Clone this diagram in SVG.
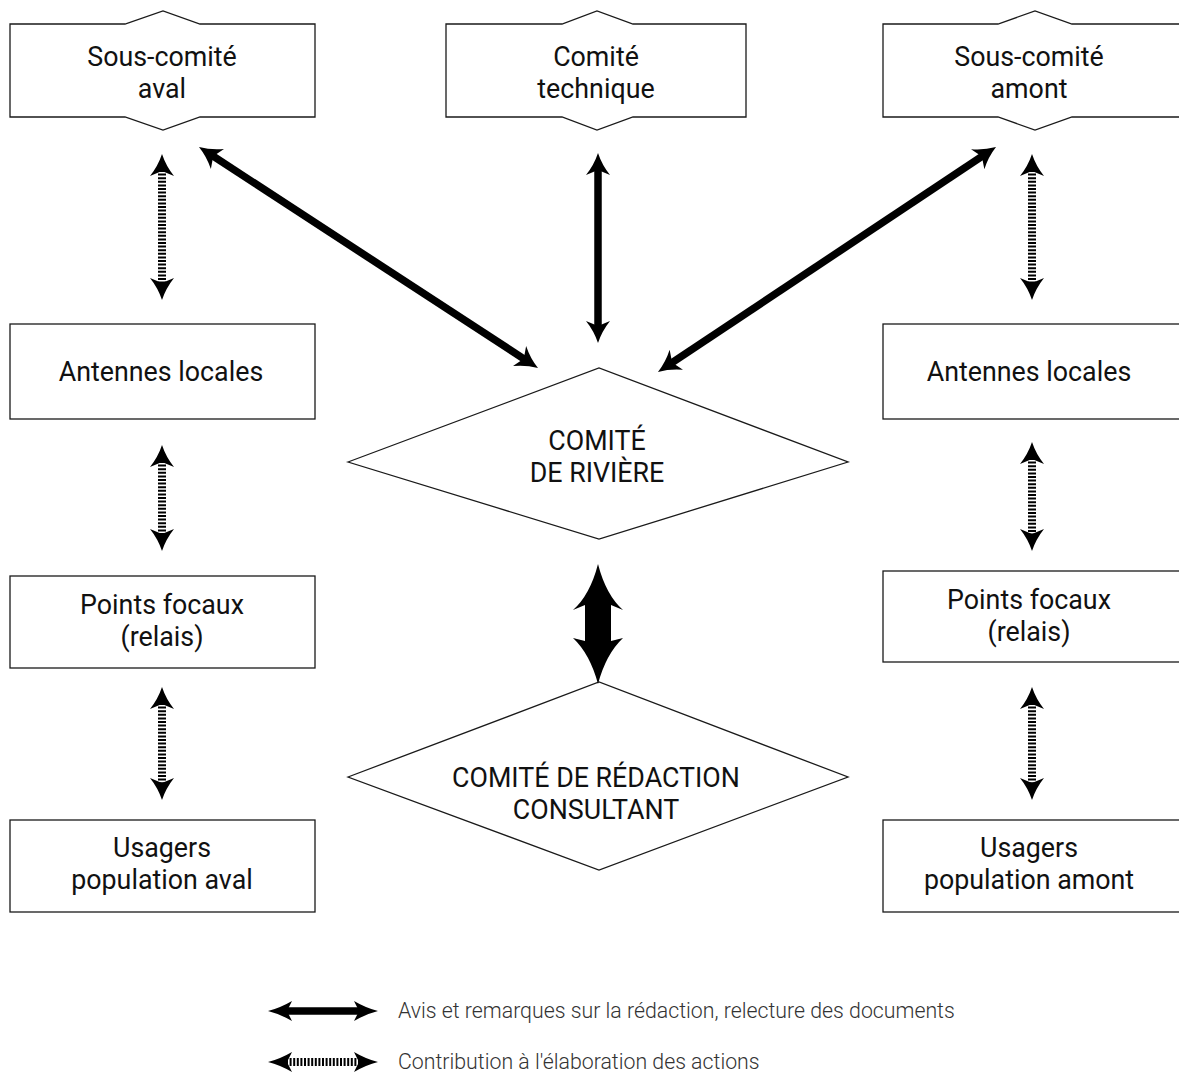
<svg xmlns="http://www.w3.org/2000/svg" width="1179" height="1074" viewBox="0 0 1179 1074">
  <style>
    .box { fill: #fff; stroke: #1a1a1a; stroke-width: 1.3; }
    .lbl { font-family: Roboto, "Liberation Sans", sans-serif; font-size: 26.8px; fill: #111; text-anchor: middle; }
    .legend { font-family: Roboto, "Liberation Sans", sans-serif; font-size: 21.3px; font-weight: 300; fill: #333; }
    .solid { stroke: #000; stroke-width: 7.5; fill: none; }
    .dotted { stroke: #000; stroke-width: 8; stroke-dasharray: 2 1.6; fill: none; }
  </style>
  <defs>
    <marker id="head" markerUnits="userSpaceOnUse" viewBox="0 -13 24 26" refX="6" refY="0" markerWidth="24" markerHeight="26" orient="auto-start-reverse">
      <path d="M22,0 Q10,-4 0,-12 L5,0 L0,12 Q10,4 22,0 Z" fill="#000"/>
    </marker>
    <marker id="headLeg" markerUnits="userSpaceOnUse" viewBox="0 -11 26 22" refX="6" refY="0" markerWidth="26" markerHeight="22" orient="auto-start-reverse">
      <path d="M24,0 Q12,-3 0,-10 L5,0 L0,10 Q12,3 24,0 Z" fill="#000"/>
    </marker>
  </defs>

  <!-- top committees -->
  <g id="sous-comite-aval">
    <path class="box" d="M10,24 L125,24 L163,11 L200,24 L315,24 L315,117 L200,117 L163,130 L125,117 L10,117 Z"/>
    <text class="lbl" x="162" y="66">Sous-comité</text>
    <text class="lbl" x="162" y="98">aval</text>
  </g>
  <g id="comite-technique">
    <path class="box" d="M446,24 L562,24 L597,11 L633,24 L746,24 L746,117 L633,117 L597,130 L562,117 L446,117 Z"/>
    <text class="lbl" x="596" y="66">Comité</text>
    <text class="lbl" x="596" y="98">technique</text>
  </g>
  <g id="sous-comite-amont">
    <path class="box" d="M883,24 L998,24 L1035,11 L1072,24 L1190,24 L1190,117 L1072,117 L1035,130 L998,117 L883,117 Z"/>
    <text class="lbl" x="1029" y="66">Sous-comité</text>
    <text class="lbl" x="1029" y="98">amont</text>
  </g>

  <!-- left column -->
  <g id="antennes-aval">
    <rect class="box" x="10" y="324" width="305" height="95"/>
    <text class="lbl" x="161" y="381">Antennes locales</text>
  </g>
  <g id="points-focaux-aval">
    <rect class="box" x="10" y="576" width="305" height="92"/>
    <text class="lbl" x="162" y="614">Points focaux</text>
    <text class="lbl" x="162" y="646">(relais)</text>
  </g>
  <g id="usagers-aval">
    <rect class="box" x="10" y="820" width="305" height="92"/>
    <text class="lbl" x="162" y="857">Usagers</text>
    <text class="lbl" x="162" y="889">population aval</text>
  </g>

  <!-- right column -->
  <g id="antennes-amont">
    <rect class="box" x="883" y="324" width="310" height="95"/>
    <text class="lbl" x="1029" y="381">Antennes locales</text>
  </g>
  <g id="points-focaux-amont">
    <rect class="box" x="883" y="571" width="310" height="91"/>
    <text class="lbl" x="1029" y="609">Points focaux</text>
    <text class="lbl" x="1029" y="641">(relais)</text>
  </g>
  <g id="usagers-amont">
    <rect class="box" x="883" y="820" width="310" height="92"/>
    <text class="lbl" x="1029" y="857">Usagers</text>
    <text class="lbl" x="1029" y="889">population amont</text>
  </g>

  <!-- central committees -->
  <g id="comite-riviere">
    <path class="box" d="M348,462 L599,368 L848,462 L599,539 Z"/>
    <text class="lbl" x="597" y="450">COMITÉ</text>
    <text class="lbl" x="597" y="482">DE RIVIÈRE</text>
  </g>
  <g id="comite-redaction">
    <path class="box" d="M348,777 L599,682 L848,777 L599,870 Z"/>
    <text class="lbl" x="596" y="787">COMITÉ DE RÉDACTION</text>
    <text class="lbl" x="596" y="819">CONSULTANT</text>
  </g>

  <!-- connectors -->
  <g id="connectors">
    <line class="solid" x1="212.4" y1="155.7" x2="524.6" y2="359.3" marker-start="url(#head)" marker-end="url(#head)"/>
    <line class="solid" x1="598" y1="169" x2="598" y2="327" marker-start="url(#head)" marker-end="url(#head)"/>
    <line class="solid" x1="982.7" y1="155.9" x2="671.3" y2="363.1" marker-start="url(#head)" marker-end="url(#head)"/>

    <line class="dotted" x1="162" y1="170" x2="162" y2="284" marker-start="url(#head)" marker-end="url(#head)"/>
    <line class="dotted" x1="162" y1="461" x2="162" y2="535" marker-start="url(#head)" marker-end="url(#head)"/>
    <line class="dotted" x1="162" y1="703" x2="162" y2="784" marker-start="url(#head)" marker-end="url(#head)"/>

    <line class="dotted" x1="1032" y1="170" x2="1032" y2="284" marker-start="url(#head)" marker-end="url(#head)"/>
    <line class="dotted" x1="1032" y1="458" x2="1032" y2="535" marker-start="url(#head)" marker-end="url(#head)"/>
    <line class="dotted" x1="1032" y1="703" x2="1032" y2="784" marker-start="url(#head)" marker-end="url(#head)"/>

    <!-- wide double arrow between the two central committees -->
    <path d="M598,564 Q606,595 623,610 L611,605 L611,641 L623,638 Q606,654 598,684 Q590,654 573,638 L585,641 L585,605 L573,610 Q590,595 598,564 Z" fill="#000"/>
  </g>

  <!-- legend -->
  <g id="legend">
    <line class="solid" x1="286" y1="1011" x2="360" y2="1011" stroke-width="6" marker-start="url(#headLeg)" marker-end="url(#headLeg)"/>
    <text class="legend" x="398" y="1018">Avis et remarques sur la rédaction, relecture des documents</text>
    <line class="dotted" x1="286" y1="1062" x2="360" y2="1062" stroke-width="8" marker-start="url(#headLeg)" marker-end="url(#headLeg)"/>
    <text class="legend" x="398" y="1069">Contribution à l'élaboration des actions</text>
  </g>
</svg>
